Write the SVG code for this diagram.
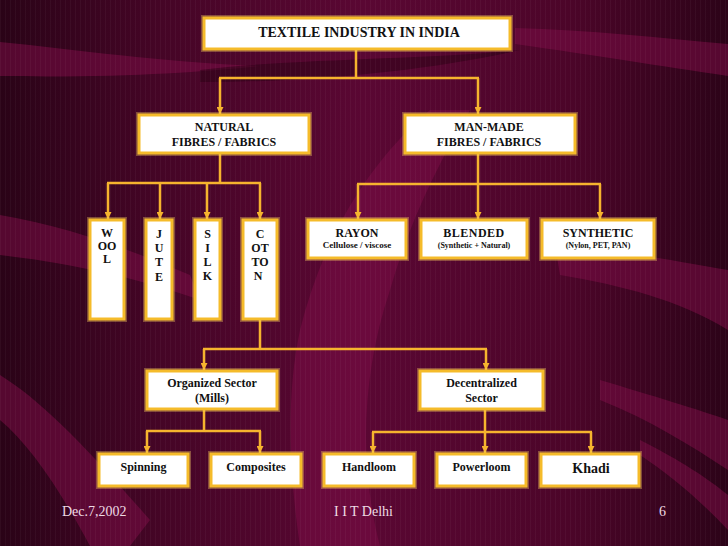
<svg xmlns="http://www.w3.org/2000/svg" width="728" height="546" viewBox="0 0 728 546">
<defs>
<linearGradient id="bg" x1="0" y1="0" x2="1" y2="0">
<stop offset="0" stop-color="#2a0317"/>
<stop offset="0.22" stop-color="#450526"/>
<stop offset="0.5" stop-color="#5a0733"/>
<stop offset="0.78" stop-color="#4c0529"/>
<stop offset="1" stop-color="#2c0318"/>
</linearGradient>
<pattern id="stripes" width="5" height="546" patternUnits="userSpaceOnUse">
<rect x="0" y="0" width="1" height="546" fill="#ffffff" fill-opacity="0.035"/>
</pattern>
<marker id="arr" viewBox="0 0 10 10" refX="10" refY="5" markerWidth="7" markerHeight="7" orient="auto" markerUnits="userSpaceOnUse">
<path d="M0,0 L10,5 L0,10 Z" fill="#f6b42e"/>
</marker>
<style>
.box{fill:#ffffff;stroke:#f5bb2a;stroke-width:3}
.glow{fill:none;stroke:#f8d060;stroke-opacity:0.35;stroke-width:6}
.t{font-family:"Liberation Serif","Times New Roman",serif;font-weight:bold;fill:#111;text-anchor:middle}
.c{fill:none;stroke:#f6b42e;stroke-width:2.5}
.a{marker-end:url(#arr)}
.ft{font-family:"Liberation Serif","Times New Roman",serif;font-size:14px;fill:#eedbe4}
.rib{fill:#7a0c46;fill-opacity:0.55}
.dk{fill:#2a0214;fill-opacity:0.5}
</style>
</defs>

<g id="background">
<rect width="728" height="546" fill="url(#bg)"/>
<path class="rib" d="M0,42 C80,50 160,62 260,66 C200,72 120,78 0,76 Z"/>
<path class="dk" d="M200,70 C300,58 420,60 520,50 C430,70 320,82 200,82 Z"/>
<path class="rib" d="M515,28 C590,30 660,38 728,44 L728,76 C660,66 600,56 515,44 Z"/>
<path class="rib" d="M0,215 C60,225 120,245 190,275 L200,300 C130,275 60,262 0,255 Z"/>
<path class="rib" d="M0,375 C40,400 80,440 150,520 L130,546 L90,546 C60,490 30,445 0,420 Z"/>
<path class="rib" d="M430,110 C360,170 320,250 300,330 C285,400 290,480 300,546 L380,546 C360,470 360,380 390,290 C410,220 440,160 470,110 Z"/>
<path class="rib" d="M555,245 C620,250 680,262 728,270 L728,330 C680,300 620,285 560,275 Z"/>
<path class="rib" d="M600,380 C650,395 700,410 728,420 L728,470 C690,445 650,420 600,400 Z"/>
<path class="rib" d="M640,440 C680,460 710,480 728,495 L728,530 C700,500 670,475 640,455 Z"/>
<rect width="728" height="546" fill="url(#stripes)"/>
</g>

<g id="connectors">
<path class="c" d="M356,50 V78 M219,78 H479"/>
<path class="c a" d="M220,78 V114"/>
<path class="c a" d="M478,78 V114"/>
<path class="c" d="M220,153 V183 M107,183 H261"/>
<path class="c a" d="M108,183 V219"/>
<path class="c a" d="M160,183 V219"/>
<path class="c a" d="M207,183 V219"/>
<path class="c a" d="M260,183 V219"/>
<path class="c" d="M478,153 V184 M357,184 H601"/>
<path class="c a" d="M358,184 V219"/>
<path class="c a" d="M478,184 V219"/>
<path class="c a" d="M600,184 V219"/>
<path class="c" d="M260,319 V349 M203,349 H487"/>
<path class="c a" d="M204,349 V370"/>
<path class="c a" d="M486,349 V370"/>
<path class="c" d="M204,409 V431 M146,431 H261"/>
<path class="c a" d="M147,431 V453"/>
<path class="c a" d="M260,431 V453"/>
<path class="c" d="M485,409 V432 M372,432 H592"/>
<path class="c a" d="M373,432 V453"/>
<path class="c a" d="M485,432 V453"/>
<path class="c a" d="M591,432 V453"/>
</g>

<g id="title">
<rect class="glow" x="204" y="18" width="306" height="31"/>
<rect class="box" x="204" y="18" width="306" height="31"/>
<text class="t" x="359" y="37" font-size="14">TEXTILE INDUSTRY IN INDIA</text>
</g>

<g id="natural">
<rect class="glow" x="139" y="115" width="170" height="38"/>
<rect class="box" x="139" y="115" width="170" height="38"/>
<text class="t" x="224" y="131" font-size="12">NATURAL</text>
<text class="t" x="224" y="146" font-size="12">FIBRES / FABRICS</text>
</g>

<g id="manmade">
<rect class="glow" x="405" y="115" width="170" height="38"/>
<rect class="box" x="405" y="115" width="170" height="38"/>
<text class="t" x="489" y="131" font-size="12">MAN-MADE</text>
<text class="t" x="489" y="146" font-size="12">FIBRES / FABRICS</text>
</g>

<g id="wool">
<rect class="glow" x="90" y="220" width="34" height="99"/>
<rect class="box" x="90" y="220" width="34" height="99"/>
<text class="t" x="107" y="237" font-size="12">W</text>
<text class="t" x="107" y="250" font-size="12">OO</text>
<text class="t" x="107" y="263" font-size="12">L</text>
</g>

<g id="jute">
<rect class="glow" x="146" y="220" width="26" height="99"/>
<rect class="box" x="146" y="220" width="26" height="99"/>
<text class="t" x="159" y="238" font-size="12">J</text>
<text class="t" x="159" y="252" font-size="12">U</text>
<text class="t" x="159" y="266" font-size="12">T</text>
<text class="t" x="159" y="281" font-size="12">E</text>
</g>

<g id="silk">
<rect class="glow" x="195" y="220" width="25" height="99"/>
<rect class="box" x="195" y="220" width="25" height="99"/>
<text class="t" x="207.5" y="238" font-size="12">S</text>
<text class="t" x="207.5" y="252" font-size="12">I</text>
<text class="t" x="207.5" y="266" font-size="12">L</text>
<text class="t" x="207.5" y="280" font-size="12">K</text>
</g>

<g id="cotton">
<rect class="glow" x="243" y="220" width="34" height="99"/>
<rect class="box" x="243" y="220" width="34" height="99"/>
<text class="t" x="260" y="238" font-size="12">C</text>
<text class="t" x="260" y="252" font-size="12">OT</text>
<text class="t" x="260" y="266" font-size="12">TO</text>
<text class="t" x="258" y="280" font-size="12">N</text>
</g>

<g id="rayon">
<rect class="glow" x="308" y="220" width="98" height="38"/>
<rect class="box" x="308" y="220" width="98" height="38"/>
<text class="t" x="357" y="237" font-size="12">RAYON</text>
<text class="t" x="357" y="248" font-size="9">Cellulose / viscose</text>
</g>

<g id="blended">
<rect class="glow" x="421" y="220" width="106" height="38"/>
<rect class="box" x="421" y="220" width="106" height="38"/>
<text class="t" x="474" y="237" font-size="12" letter-spacing="0.5">BLENDED</text>
<text class="t" x="474" y="248" font-size="8">(Synthetic + Natural)</text>
</g>

<g id="synthetic">
<rect class="glow" x="542" y="220" width="112" height="38"/>
<rect class="box" x="542" y="220" width="112" height="38"/>
<text class="t" x="598" y="237" font-size="12">SYNTHETIC</text>
<text class="t" x="598" y="248" font-size="8">(Nylon, PET, PAN)</text>
</g>

<g id="organized">
<rect class="glow" x="147" y="371" width="130" height="38"/>
<rect class="box" x="147" y="371" width="130" height="38"/>
<text class="t" x="212" y="387" font-size="12">Organized Sector</text>
<text class="t" x="212" y="402" font-size="12">(Mills)</text>
</g>

<g id="decentralized">
<rect class="glow" x="420" y="371" width="123" height="38"/>
<rect class="box" x="420" y="371" width="123" height="38"/>
<text class="t" x="481.5" y="387" font-size="12">Decentralized</text>
<text class="t" x="481.5" y="402" font-size="12">Sector</text>
</g>

<g id="spinning">
<rect class="glow" x="99" y="454" width="89" height="32"/>
<rect class="box" x="99" y="454" width="89" height="32"/>
<text class="t" x="143.5" y="471" font-size="12">Spinning</text>
</g>

<g id="composites">
<rect class="glow" x="211" y="454" width="90" height="32"/>
<rect class="box" x="211" y="454" width="90" height="32"/>
<text class="t" x="256" y="471" font-size="12">Composites</text>
</g>

<g id="handloom">
<rect class="glow" x="324" y="454" width="90" height="32"/>
<rect class="box" x="324" y="454" width="90" height="32"/>
<text class="t" x="369" y="471" font-size="12">Handloom</text>
</g>

<g id="powerloom">
<rect class="glow" x="437" y="454" width="89" height="32"/>
<rect class="box" x="437" y="454" width="89" height="32"/>
<text class="t" x="481.5" y="471" font-size="12">Powerloom</text>
</g>

<g id="khadi">
<rect class="glow" x="541" y="454" width="98" height="32"/>
<rect class="box" x="541" y="454" width="98" height="32"/>
<text class="t" x="591" y="473" font-size="14">Khadi</text>
</g>

<g id="footer">
<text class="ft" x="62" y="516">Dec.7,2002</text>
<text class="ft" x="363.5" y="516" text-anchor="middle">I I T Delhi</text>
<text class="ft" x="659" y="516">6</text>
</g>
</svg>
